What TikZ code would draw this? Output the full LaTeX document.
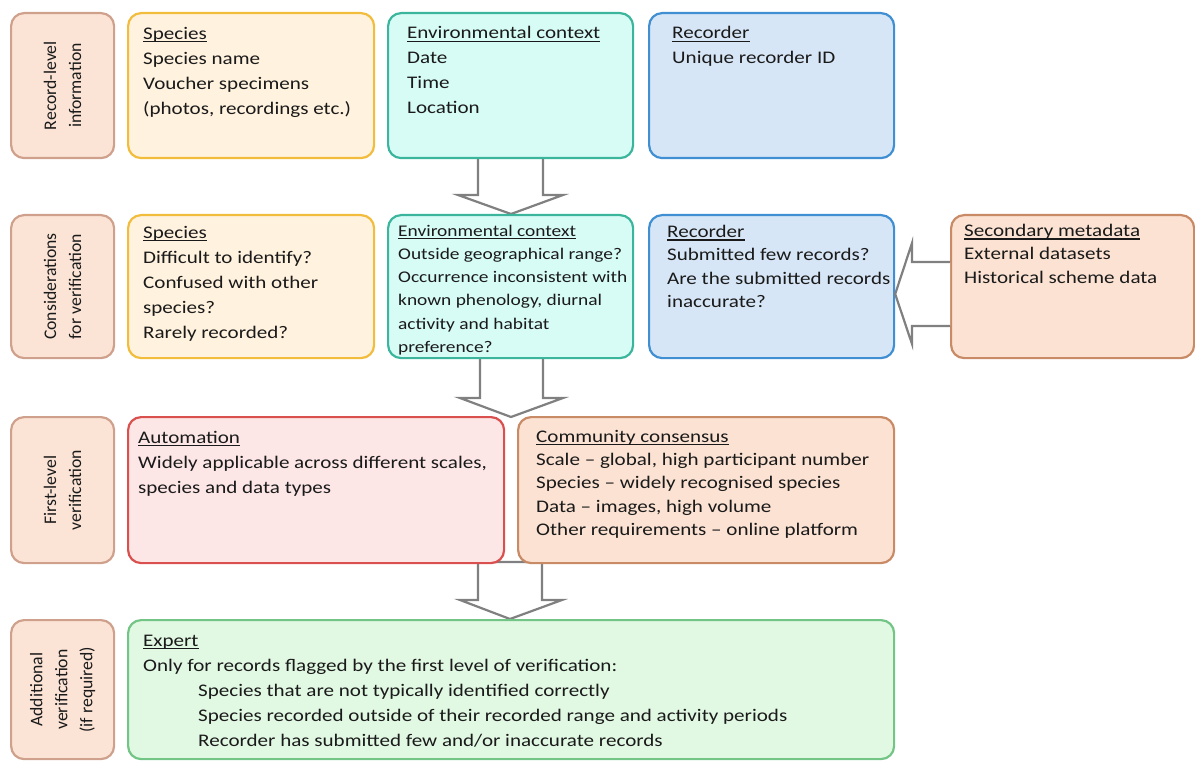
\documentclass[tikz,border=0pt]{standalone}
\usepackage{fontspec}
\setmainfont{Carlito}[FakeStretch=1.19]
\newfontfamily\lblfont{Carlito}
\usetikzlibrary{calc}
\definecolor{lblfill}{HTML}{FBE4D6}
\definecolor{lbldraw}{HTML}{CFA08C}
\definecolor{spfill}{HTML}{FFF2DE}
\definecolor{spdraw}{HTML}{F2BC3C}
\definecolor{envfill}{HTML}{D7FCF6}
\definecolor{envdraw}{HTML}{3BB59C}
\definecolor{recfill}{HTML}{D7E6F6}
\definecolor{recdraw}{HTML}{3F8FD2}
\definecolor{autofill}{HTML}{FDE6E6}
\definecolor{autodraw}{HTML}{D9504E}
\definecolor{commfill}{HTML}{FBE2D2}
\definecolor{commdraw}{HTML}{C98A66}
\definecolor{expfill}{HTML}{E1F8E3}
\definecolor{expdraw}{HTML}{72C585}
\definecolor{arrgray}{HTML}{808080}
\definecolor{txtcol}{HTML}{1A1A1A}
\newcommand\ulin[1]{\setbox0\hbox{#1}\rlap{\rule[-3pt]{\wd0}{1.1pt}}\box0}
\begin{document}
\begin{tikzpicture}[x=1pt,y=-1pt,
  box/.style={draw, line width=2.2pt, rounded corners=13pt, inner sep=0pt, anchor=north west},
  lbl/.style={box, fill=lblfill, draw=lbldraw, minimum width=103pt},
  txt/.style={anchor=north west, inner sep=0pt, align=left, text=txtcol, font=\fontsize{17.7}{25}\selectfont},
  txttight/.style={txt, font=\fontsize{17.7}{23.4}\selectfont},
  txtsmall/.style={txt, font=\fontsize{16.3}{23.3}\selectfont},
  lbltxt/.style={inner sep=0pt, align=center, rotate=90, text=txtcol, font=\lblfont\fontsize{17.7}{25}\selectfont},
  blockarrow/.style={draw=arrgray, fill=white, line width=2.2pt, line join=miter}]
\useasboundingbox (0,0) rectangle (1195,762);

% block arrows (drawn under boxes)
\draw[blockarrow] (478,157) -- (478,195) -- (458,195) -- (511,214) -- (563,195) -- (543,195) -- (543,157) -- cycle;
\draw[blockarrow] (480,357) -- (480,398) -- (460,398) -- (511,417) -- (563,398) -- (543,398) -- (543,357) -- cycle;
\draw[blockarrow] (478,562) -- (478,600) -- (460,600) -- (510,619) -- (562,600) -- (542,600) -- (542,562) -- cycle;

% row 1
\node[lbl, minimum height=145pt] (l1) at (10,12) {};
\node[box, fill=spfill, draw=spdraw, minimum width=246pt, minimum height=145pt] (sp1) at (127,12) {};
\node[box, fill=envfill, draw=envdraw, minimum width=245pt, minimum height=145pt] (env1) at (387,12) {};
\node[box, fill=recfill, draw=recdraw, minimum width=245pt, minimum height=145pt] (rec1) at (648,12) {};

% row 2
\node[lbl, minimum height=143pt] (l2) at (10,214) {};
\node[box, fill=spfill, draw=spdraw, minimum width=246pt, minimum height=143pt] (sp2) at (127,214) {};
\node[box, fill=envfill, draw=envdraw, minimum width=245pt, minimum height=143pt] (env2) at (387,214) {};
\node[box, fill=recfill, draw=recdraw, minimum width=245pt, minimum height=143pt] (rec2) at (648,214) {};
\node[box, fill=commfill, draw=commdraw, minimum width=243pt, minimum height=143pt] (sec) at (950,214) {};

% row 3
\node[lbl, minimum height=146pt] (l3) at (10,416) {};
\node[box, fill=autofill, draw=autodraw, minimum width=376pt, minimum height=146pt] (auto) at (127,416) {};
\node[box, fill=commfill, draw=commdraw, minimum width=376pt, minimum height=146pt] (comm) at (517,416) {};

% row 4
\node[lbl, minimum height=139pt] (l4) at (10,619) {};
\node[box, fill=expfill, draw=expdraw, minimum width=766pt, minimum height=139pt] (exp) at (127,619) {};

% side arrow from secondary metadata to recorder
\draw[blockarrow] (sec.west |- 0,262) -- (912,262) -- (912,243) -- (rec2.east |- 0,294) -- (912,344) -- (912,326) -- (sec.west |- 0,326);

% label texts
\node[lbltxt] (l1t) at (l1.center) {Record-level\\information};
\node[lbltxt] (l2t) at (l2.center) {Considerations\\for verification};
\node[lbltxt] (l3t) at (l3.center) {First-level\\verification};
\node[lbltxt] (l4t) at (l4.center) {Additional\\verification\\(if required)};

% box texts
\node[txt] (sp1t) at (143,21.5) {\strut\ulin{Species}\\Species name\\Voucher specimens\\(photos, recordings etc.)};
\node[txt] (env1t) at (407,21) {\strut\ulin{Environmental context}\\Date\\Time\\Location};
\node[txt] (rec1t) at (672,21) {\strut\ulin{Recorder}\\Unique recorder ID};

\node[txt] (sp2t) at (143,220.5) {\strut\ulin{Species}\\Difficult to identify?\\Confused with other\\species?\\Rarely recorded?};
\node[txtsmall] (env2t) at (398,219.5) {\strut\ulin{Environmental context}\\Outside geographical range?\\Occurrence inconsistent with\\known phenology, diurnal\\activity and habitat\\preference?};
\node[txttight] (rec2t) at (667,221) {\strut\ulin{Recorder}\\Submitted few records?\\Are the submitted records\\inaccurate?};
\node[txttight] (sect) at (964,220) {\strut\ulin{Secondary metadata}\\External datasets\\Historical scheme data};

\node[txt] (autot) at (138,425.5) {\strut\ulin{Automation}\\Widely applicable across different scales,\\species and data types};
\node[txttight] (commt) at (536,425.5) {\strut\ulin{Community consensus}\\Scale -- global, high participant number\\Species -- widely recognised species\\Data -- images, high volume\\Other requirements -- online platform};

\node[txt] (expt) at (143,628.5) {\strut\ulin{Expert}\\Only for records flagged by the first level of verification:};
\node[txt] (expl) at (198,678.5) {\strut Species that are not typically identified correctly\\Species recorded outside of their recorded range and activity periods\\Recorder has submitted few and/or inaccurate records};
\end{tikzpicture}
\end{document}
